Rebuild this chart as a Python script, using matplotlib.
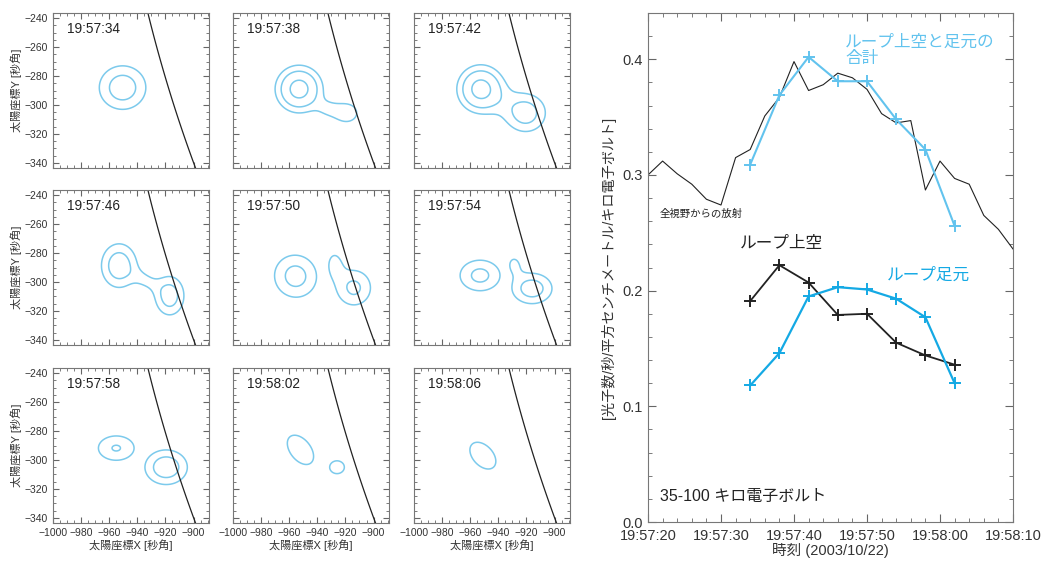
import numpy as np
import matplotlib.pyplot as plt
from matplotlib.ticker import MultipleLocator

plt.rcParams['font.family'] = ['Liberation Sans', 'Noto Sans CJK JP', 'DejaVu Sans']

# --- light curves (seconds after 19:57:00) ---
t_img = [34, 38, 42, 46, 50, 54, 58, 62]
sum_flux = [0.309, 0.369, 0.402, 0.381, 0.381, 0.348, 0.322, 0.256]
top_flux = [0.191, 0.222, 0.207, 0.179, 0.180, 0.155, 0.144, 0.136]
foot_flux = [0.118, 0.146, 0.195, 0.203, 0.201, 0.193, 0.177, 0.120]

t_full = [20, 22, 24, 26, 28, 30, 32, 34, 36, 38, 40, 42, 44,
          46, 48, 50, 52, 54, 56, 58, 60, 62, 64, 66, 68, 70]
full_flux = [0.300, 0.312, 0.301, 0.292, 0.279, 0.274, 0.315, 0.322, 0.351,
             0.367, 0.398, 0.373, 0.378, 0.388, 0.384, 0.374, 0.353, 0.345,
             0.347, 0.287, 0.312, 0.297, 0.292, 0.265, 0.253, 0.236]

time_ticks = [20, 30, 40, 50, 60, 70]
time_labels = ['19:57:20', '19:57:30', '19:57:40', '19:57:50', '19:58:00', '19:58:10']

# --- image panels: groups of sources (x, y, sx, sy, angle, amp) ---
panel_times = ['19:57:34', '19:57:38', '19:57:42', '19:57:46', '19:57:50',
               '19:57:54', '19:57:58', '19:58:02', '19:58:06']
panel_sources = [
    [[(-950.5, -288, 14.1, 12.8, 0, 1.99)]],
    [[(-953, -289, 11.7, 11.3, 0, 2.89), (-919, -305.5, 8.5, 7, 0, 1.4),
      (-933, -303, 6, 5, 0, 0.6)]],
    [[(-952.5, -289, 11.7, 11.5, 0, 2.89), (-920.5, -305.5, 12, 11, 0, 1.96)]],
    [[(-953, -288.7, 10.4, 12.5, 0, 2.06), (-917, -309.5, 8.7, 11.3, 0, 1.97),
      (-934, -299, 7, 4.5, -30, 0.75)]],
    [[(-955.5, -296, 13.5, 13, -20, 1.85)],
     [(-914, -304, 11.2, 11.2, 0, 1.74), (-928, -287, 5, 8, 0, 1.1)]],
    [[(-953, -295.5, 13.2, 9.8, 0, 1.78)],
     [(-916, -304.5, 12.2, 9.0, 0, 1.96), (-929, -287, 5, 6, 0, 1.0)]],
    [[(-955, -291.8, 12.7, 8.4, 0, 1.645)],
     [(-919.5, -305, 12.5, 9.9, 0, 2.07)]],
    [[(-952, -293, 13, 8, -50, 1.5)], [(-926, -305, 7.2, 6.1, 0, 1.3)]],
    [[(-951, -297, 12.2, 7.8, -45, 1.5)]],
]
levels = [1.0, 1.6, 2.5]
R_SUN = 962.0

contour_color = '#7ccaec'
sum_color = '#62c3ee'
foot_color = '#14a9e4'

fig = plt.figure(figsize=(10.45, 5.62), dpi=100)
W, H = 1045, 562


def px_axes(l, t, w, h):
    return fig.add_axes([l / W, 1 - (t + h) / H, w / W, h / H])


gx, gy = np.meshgrid(np.linspace(-1000, -889, 400), np.linspace(-344, -236, 400))


def group_image(group):
    img = np.zeros_like(gx)
    for x0, y0, sx, sy, ang, amp in group:
        a = np.deg2rad(ang)
        u = (gx - x0) * np.cos(a) + (gy - y0) * np.sin(a)
        v = -(gx - x0) * np.sin(a) + (gy - y0) * np.cos(a)
        img += amp * np.exp(-0.5 * (u / sx) ** 2 - 0.5 * (v / sy) ** 2)
    return img


col_left = [53, 233, 414]
row_top = [13, 190, 368]
for i in range(9):
    r, c = divmod(i, 3)
    ax = px_axes(col_left[c], row_top[r], 156, 155)
    img = np.max([group_image(g) for g in panel_sources[i]], axis=0)
    ax.contour(gx, gy, img, levels=levels, colors=contour_color, linewidths=1.1)
    yl = np.linspace(-345, -235, 100)
    ax.plot(-np.sqrt(R_SUN ** 2 - yl ** 2), yl, color='#222222', lw=0.9)
    ax.set_xlim(-1000, -889)
    ax.set_ylim(-343.5, -236.5)
    ax.xaxis.set_major_locator(MultipleLocator(20))
    ax.xaxis.set_minor_locator(MultipleLocator(5))
    ax.yaxis.set_major_locator(MultipleLocator(20))
    ax.yaxis.set_minor_locator(MultipleLocator(5))
    ax.tick_params(which='both', direction='in', top=True, right=True,
                   colors='#666666', labelcolor='#333333', labelsize=7.5)
    ax.tick_params(which='major', length=4)
    ax.tick_params(which='minor', length=2)
    for s in ax.spines.values():
        s.set_color('#777777')
    if c != 0:
        ax.set_yticklabels([])
    else:
        ax.set_ylabel('太陽座標Y [秒角]', fontsize=8, color='#333333', labelpad=2)
    if r != 2:
        ax.set_xticklabels([])
    else:
        ax.set_xlabel('太陽座標X [秒角]', fontsize=8, color='#333333', labelpad=1)
    ax.text(0.09, 0.895, panel_times[i], transform=ax.transAxes, fontsize=9.8,
            va='center', color='#222222')

# --- light curve panel ---
ax = px_axes(648, 13, 365, 509)
ax.plot(t_full, full_flux, color='#222222', lw=0.8)
ax.plot(t_img, sum_flux, color=sum_color, lw=1.5, marker='+', ms=9, mew=1.4)
ax.plot(t_img, top_flux, color='#222222', lw=1.3, marker='+', ms=9, mew=1.4)
ax.plot(t_img, foot_flux, color=foot_color, lw=1.6, marker='+', ms=9, mew=1.4)
ax.set_xlim(20, 70)
ax.set_ylim(0, 0.44)
ax.set_xticks(time_ticks)
ax.set_xticklabels(time_labels)
ax.xaxis.set_minor_locator(MultipleLocator(2))
ax.yaxis.set_major_locator(MultipleLocator(0.1))
ax.yaxis.set_minor_locator(MultipleLocator(0.02))
ax.yaxis.set_major_formatter(lambda v, p: f'{v:.1f}')
ax.tick_params(which='both', direction='in', top=True, right=True,
               colors='#666666', labelcolor='#333333', labelsize=10.5)
ax.tick_params(which='major', length=6)
ax.tick_params(which='minor', length=3)
ax.tick_params(axis='x', pad=5)
for s in ax.spines.values():
    s.set_color('#777777')
fig.canvas.draw()
ax.get_yticklabels()[0].set_va('bottom')
ax.set_xlabel('時刻 (2003/10/22)', fontsize=10.5, color='#333333', labelpad=0)
ax.set_ylabel('[光子数/秒/平方センチメートル/キロ電子ボルト]', fontsize=10.2,
              color='#333333', labelpad=5)

ax.text(47.0, 0.421, 'ループ上空と足元の\n合計', color=sum_color, fontsize=12,
        va='top', linespacing=1.05)
ax.text(21.6, 0.266, '全視野からの放射', color='#222222', fontsize=7.5, va='center')
ax.text(32.6, 0.2405, 'ループ上空', color='#222222', fontsize=12, va='center')
ax.text(52.7, 0.213, 'ループ足元', color=foot_color, fontsize=12, va='center')
ax.text(21.6, 0.0224, '35-100 キロ電子ボルト', color='#222222', fontsize=11.5, va='center')

fig.savefig('out.png', dpi=100)
